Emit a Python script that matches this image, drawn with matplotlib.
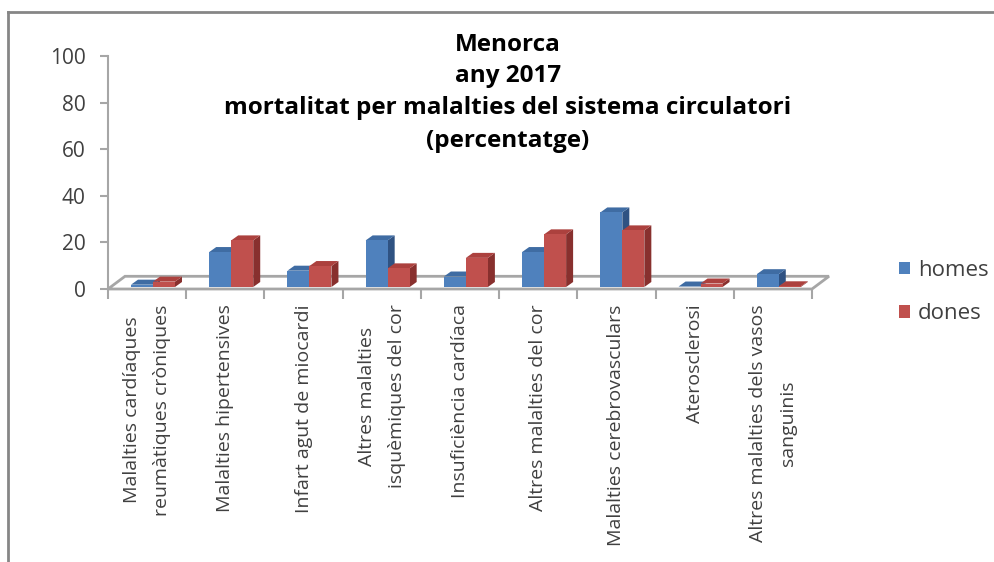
import numpy as np
import matplotlib
matplotlib.use("Agg")
import matplotlib.pyplot as plt
from matplotlib.patches import Polygon, Patch
from matplotlib.lines import Line2D

plt.rcParams['font.family'] = ['Open Sans', 'DejaVu Sans']

## == data ==
categories = ['Malalties cardíaques\nreumàtiques cròniques', 'Malalties hipertensives',
              'Infart agut de miocardi', 'Altres malalties\nisquèmiques del cor',
              'Insuficiència cardíaca', 'Altres malalties del cor',
              'Malalties cerebrovasculars', 'Aterosclerosi',
              'Altres malalties dels vasos\nsanguinis']
homes = [1.0, 15.0, 7.0, 20.0, 4.5, 15.0, 32.0, 0.2, 5.5]
dones = [2.3, 20.0, 9.0, 8.0, 12.5, 22.6, 24.3, 1.5, 0.3]
series_names = ['homes', 'dones']
yticks = [0, 20, 40, 60, 80, 100]

## == styles ==
front_cols = ['#4F81BD', '#C0504D']
top_cols = ['#3F6CA3', '#AC413E']
side_cols = ['#2F5282', '#88302E']
grey = '#A6A6A6'
txt = '#404040'

W, H = 995, 562
fig = plt.figure(figsize=(W / 100, H / 100), dpi=100)
# axes: x=0 at px 108, x=9 at px 812 ; y=0 at px 289, y=100 at px 56
pxc = (812 - 108) / 9.0
xmax = 9.3
ax = fig.add_axes([108 / W, (H - 289) / H, xmax * pxc / W, (289 - 56) / H])
ax.set_xlim(0, xmax)
ax.set_ylim(0, 100)
pxv = (289 - 56) / 100.0

# depth offsets in data units
floor_dx, floor_dy = 17 / pxc, 12.7 / pxv
bar_dx, bar_dy = 7 / pxc, 5 / pxv
bar_w = 22 / pxc
pair_c = 45 / pxc
base = 2 / pxv
n = len(categories)

# floor
floor = Polygon([(0, 0), (n, 0), (n + floor_dx, floor_dy), (floor_dx, floor_dy)],
                closed=True, facecolor='white', edgecolor=grey, lw=2, clip_on=False, zorder=1)
ax.add_patch(floor)

# bars with pseudo-3D faces
for i in range(n):
    for s, vals in enumerate([homes, dones]):
        x0 = i + pair_c - bar_w + s * bar_w
        y0 = base
        v = vals[i]
        y1 = y0 + v
        side = Polygon([(x0 + bar_w, y0), (x0 + bar_w + bar_dx, y0 + bar_dy),
                        (x0 + bar_w + bar_dx, y1 + bar_dy), (x0 + bar_w, y1)],
                       closed=True, facecolor=side_cols[s], lw=0, clip_on=False, zorder=3 + s)
        top = Polygon([(x0, y1), (x0 + bar_dx, y1 + bar_dy), (x0 + bar_w + bar_dx, y1 + bar_dy),
                       (x0 + bar_w, y1)],
                      closed=True, facecolor=top_cols[s], lw=0, clip_on=False, zorder=3 + s)
        ax.add_patch(side)
        ax.add_patch(top)
        ax.bar(x0, v, bottom=y0, width=bar_w, align='edge', color=front_cols[s],
               lw=0, zorder=3 + s, clip_on=False)

# axes styling
for sp in ['top', 'right', 'bottom']:
    ax.spines[sp].set_visible(False)
ax.spines['left'].set_color(grey)
ax.spines['left'].set_linewidth(1.5)
ax.patch.set_alpha(0)
ax.set_yticks(yticks)
ax.tick_params(axis='y', colors=grey, length=6, width=1.5, labelsize=15, labelcolor=txt, pad=10)
ax.set_xticks(range(n + 1))
ax.set_xticklabels([''] * (n + 1))
ax.tick_params(axis='x', which='major', colors=grey, length=7, width=1.5, direction='out')
ax.set_xticks(np.arange(n) + 0.5, minor=True)
ax.set_xticklabels(categories, minor=True, rotation=90, fontsize=14, color=txt,
                   va='top', ha='center', multialignment='center', linespacing=1.85)
ax.tick_params(axis='x', which='minor', length=0, pad=11)

# title
title_lines = ['Menorca', 'any 2017', 'mortalitat per malalties del sistema circulatori', '(percentatge)']
for k, (line, yc) in enumerate(zip(title_lines, [45, 76, 108, 141])):
    fig.text(508 / W, 1 - yc / H, line, ha='center', va='center', fontsize=17.5,
             fontweight='bold', color='black')

# legend
handles = [Patch(facecolor=c, edgecolor='none') for c in front_cols]
fig.legend(handles, series_names, loc='center left', bbox_to_anchor=(879 / W, 1 - 292 / H),
           frameon=False, fontsize=16, handlelength=0.5, handleheight=0.5,
           handletextpad=0.35, labelspacing=1.0, labelcolor=txt)

# chart frame (only top and left visible)
fig.add_artist(Line2D([8 / W, 1], [1 - 12 / H, 1 - 12 / H], color='#868686', lw=2))
fig.add_artist(Line2D([8 / W, 8 / W], [0, 1 - 12 / H], color='#868686', lw=2))

fig.savefig('out.png', dpi=100)
